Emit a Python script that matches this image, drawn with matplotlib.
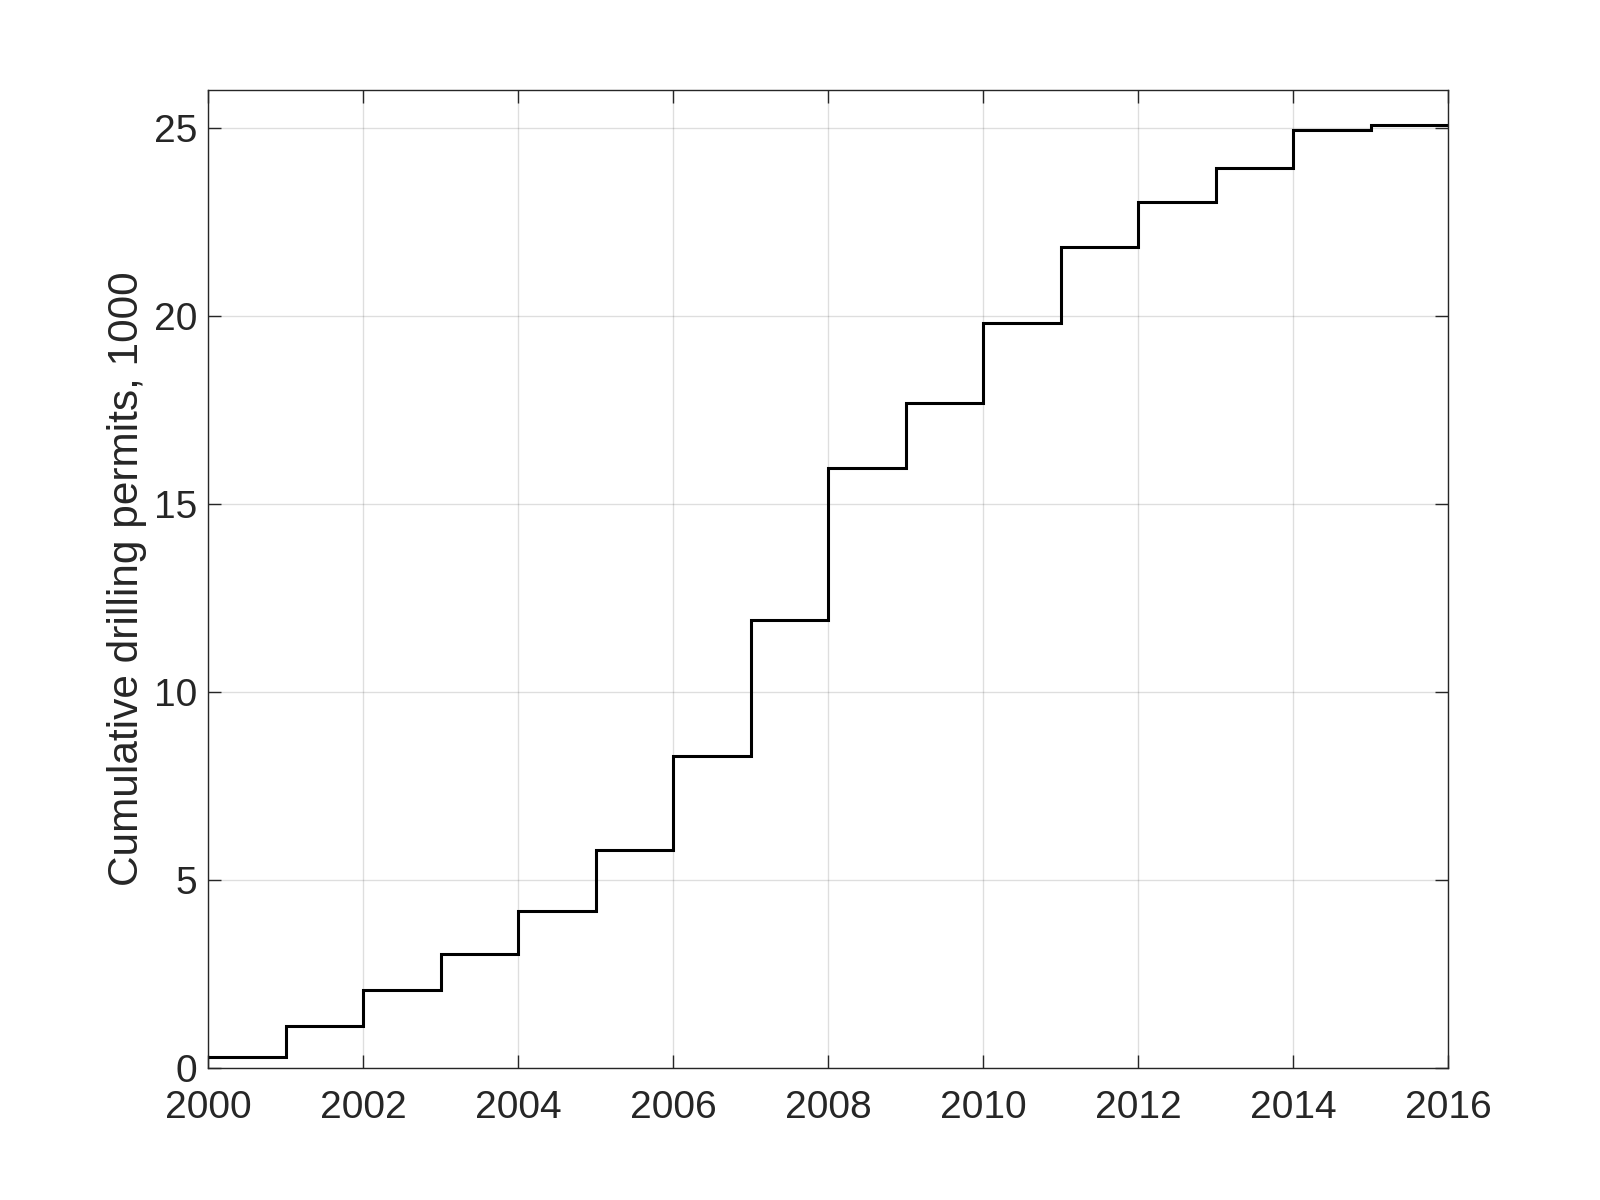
import matplotlib
matplotlib.use("Agg")
import matplotlib.pyplot as plt
import numpy as np

# yearly bin edges and cumulative permits (thousands) for each year
years = [2000, 2001, 2002, 2003, 2004, 2005, 2006, 2007, 2008,
         2009, 2010, 2011, 2012, 2013, 2014, 2015, 2016]
permits = [0.28, 1.12, 2.07, 3.04, 4.17, 5.79, 8.29, 11.91,
           15.96, 17.69, 19.81, 21.82, 23.02, 23.93, 24.93, 25.06]

plt.rcParams['font.family'] = ['Liberation Sans', 'DejaVu Sans']

axis_color = '#262626'

fig = plt.figure(figsize=(16, 12), dpi=100)
ax = fig.add_axes([0.13, 0.11, 0.775, 0.815])

ax.stairs(permits, years, baseline=None, color='black', linewidth=2.2)

ax.set_xlim(2000, 2016)
ax.set_ylim(0, 26)
ax.set_xticks(np.arange(2000, 2017, 2))
ax.set_yticks([0, 5, 10, 15, 20, 25])

ax.grid(True, color=axis_color, alpha=0.15, linewidth=1.0)
ax.set_axisbelow(True)

for s in ax.spines.values():
    s.set_color(axis_color)
    s.set_linewidth(1.0)

ax.tick_params(axis='both', direction='in', length=9.5, width=1.0,
               top=True, right=True, colors=axis_color,
               labelsize=28, labelcolor=axis_color)
ax.tick_params(axis='x', pad=16)
ax.tick_params(axis='y', pad=8)

ax.set_ylabel('Cumulative drilling permits, 1000', fontsize=30.5,
              color=axis_color, labelpad=5)

fig.savefig('out.png', dpi=100, facecolor='white')
